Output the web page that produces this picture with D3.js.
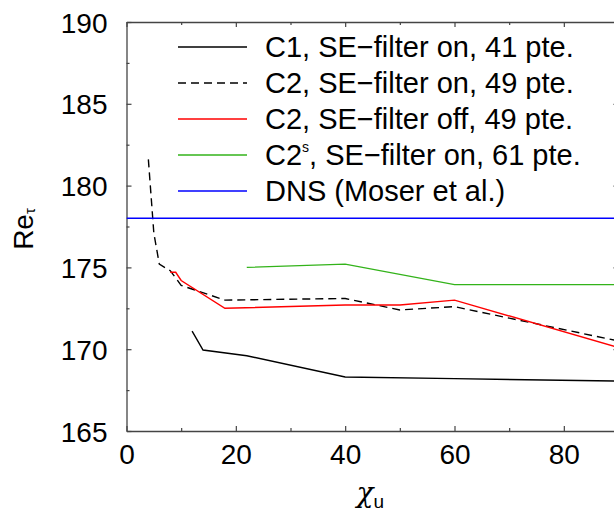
<!DOCTYPE html>
<html>
<head>
<meta charset="utf-8">
<script src="https://cdn.jsdelivr.net/npm/d3@7"></script>
<style>
  body { margin: 0; background: #fff; }
  svg text { font-family: "Liberation Sans", Arial, sans-serif; fill: #000; }
</style>
</head>
<body>
<div id="chart"></div>
<script>
// data
var c1x = [12, 14, 22, 40, 60, 90];
var c1y = [171.1, 169.95, 169.6, 168.3, 168.2, 168.05];
var c2onx = [4, 5, 6, 8, 10, 18, 40, 50, 60, 90];
var c2ony = [181.6, 177.1, 175.2, 174.8, 173.9, 173.0, 173.1, 172.4, 172.6, 170.5];
var c2offx = [8, 9, 10, 18, 40, 50, 60, 90];
var c2offy = [174.7, 174.7, 174.2, 172.5, 172.7, 172.7, 173.0, 170.1];
var c2sx = [22, 40, 60, 90];
var c2sy = [175.0, 175.2, 173.95, 173.95];
var dnsx = [0, 90];
var dnsy = [178, 178];
var xMajor = [0, 20, 40, 60, 80];
var xMinor = [10, 30, 50, 70];
var yMajor = [165, 170, 175, 180, 185, 190];
var yMinor = [167.5, 172.5, 177.5, 182.5, 187.5];

var width = 614, height = 516;
var margin = {top: 22, left: 126.5, bottom: 85, right: -4.5};

var svg = d3.select("#chart").append("svg")
  .attr("width", width)
  .attr("height", height);

var x = d3.scaleLinear().domain([0, 90]).range([margin.left, width - margin.right]);
var y = d3.scaleLinear().domain([165, 190]).range([height - margin.bottom, margin.top]);

svg.append("clipPath").attr("id", "plotclip")
  .append("rect")
  .attr("x", x(0)).attr("y", y(190))
  .attr("width", x(90) - x(0)).attr("height", y(165) - y(190));

// axes, ticks inward on all sides
function styleAxis(g) {
  g.select(".domain").attr("stroke", "#444").attr("stroke-width", 1.3);
  g.selectAll(".tick line").attr("stroke", "#444").attr("stroke-width", 1.2);
  g.selectAll(".tick text").style("font-size", "28px");
}
svg.append("g")
  .attr("transform", "translate(0," + y(165) + ")")
  .call(d3.axisBottom(x).tickValues(xMajor).tickSizeInner(-5).tickSizeOuter(0))
  .call(styleAxis)
  .call(function(g) { g.selectAll(".tick text").attr("y", 33).attr("dy", 0); });
svg.append("g")
  .attr("transform", "translate(0," + y(165) + ")")
  .call(d3.axisBottom(x).tickValues(xMinor).tickSizeInner(-3).tickSizeOuter(0).tickFormat(""))
  .call(styleAxis)
  .call(function(g) { g.select(".domain").remove(); });
svg.append("g")
  .attr("transform", "translate(0," + y(190) + ")")
  .call(d3.axisTop(x).tickValues(xMajor).tickSizeInner(-5).tickSizeOuter(0).tickFormat(""))
  .call(styleAxis);
svg.append("g")
  .attr("transform", "translate(0," + y(190) + ")")
  .call(d3.axisTop(x).tickValues(xMinor).tickSizeInner(-3).tickSizeOuter(0).tickFormat(""))
  .call(styleAxis)
  .call(function(g) { g.select(".domain").remove(); });

svg.append("g")
  .attr("transform", "translate(" + x(0) + ",0)")
  .call(d3.axisLeft(y).tickValues(yMajor).tickSizeInner(-5).tickSizeOuter(0).tickFormat(d3.format("d")))
  .call(styleAxis)
  .call(function(g) { g.selectAll(".tick text").attr("x", -19).attr("dy", "0.36em"); });
svg.append("g")
  .attr("transform", "translate(" + x(0) + ",0)")
  .call(d3.axisLeft(y).tickValues(yMinor).tickSizeInner(-3).tickSizeOuter(0).tickFormat(""))
  .call(styleAxis)
  .call(function(g) { g.select(".domain").remove(); });
svg.append("g")
  .attr("transform", "translate(" + x(90) + ",0)")
  .call(d3.axisRight(y).tickValues(yMajor).tickSizeInner(-5).tickSizeOuter(0).tickFormat(""))
  .call(styleAxis);
svg.append("g")
  .attr("transform", "translate(" + x(90) + ",0)")
  .call(d3.axisRight(y).tickValues(yMinor).tickSizeInner(-3).tickSizeOuter(0).tickFormat(""))
  .call(styleAxis)
  .call(function(g) { g.select(".domain").remove(); });

// axis titles
var xt = svg.append("text")
  .attr("x", x(44.6)).attr("y", 502)
  .attr("text-anchor", "middle")
  .style("font-size", "28px");
xt.append("tspan").style("font-family", "'DejaVu Serif', serif").style("font-style", "italic").text("χ");
xt.append("tspan").attr("dy", 6).style("font-size", "19px").text("u");

var yt = svg.append("text")
  .attr("transform", "translate(33,229) rotate(-90)")
  .attr("text-anchor", "middle")
  .style("font-size", "28px");
yt.append("tspan").text("Re");
yt.append("tspan").attr("dy", 2).style("font-size", "15px").text("τ");

// series
var series = [
  {name: "C1", xs: c1x, ys: c1y, color: "#000", dash: null},
  {name: "C2on", xs: c2onx, ys: c2ony, color: "#000", dash: "8,5"},
  {name: "C2off", xs: c2offx, ys: c2offy, color: "#ff0000", dash: null},
  {name: "C2s", xs: c2sx, ys: c2sy, color: "#33b31a", dash: null},
  {name: "DNS", xs: dnsx, ys: dnsy, color: "#0000ff", dash: null}
];

var line = d3.line()
  .x(function(d) { return x(d[0]); })
  .y(function(d) { return y(d[1]); });

var plot = svg.append("g").attr("clip-path", "url(#plotclip)");
series.forEach(function(s) {
  var pts = s.xs.map(function(v, i) { return [v, s.ys[i]]; });
  plot.append("path")
    .datum(pts)
    .attr("fill", "none")
    .attr("stroke", s.color)
    .attr("stroke-width", 1.4)
    .attr("stroke-dasharray", s.dash)
    .attr("d", line);
});

// legend
var legendRows = [0, 1, 2, 3, 4];
var lg = svg.append("g");
legendRows.forEach(function(i) {
  var s = series[i];
  var ly = 47 + i * 36;
  lg.append("line")
    .attr("x1", 178).attr("x2", 247)
    .attr("y1", ly).attr("y2", ly)
    .attr("stroke", s.color)
    .attr("stroke-width", 1.4)
    .attr("stroke-dasharray", s.dash);
  var t = lg.append("text")
    .attr("x", 265).attr("y", ly).attr("dy", "0.36em")
    .style("font-size", "29px");
  if (i == 0) t.text("C1, SE\u2212filter on, 41 pte.");
  if (i == 1) t.text("C2, SE\u2212filter on, 49 pte.");
  if (i == 2) t.text("C2, SE\u2212filter off, 49 pte.");
  if (i == 3) {
    t.append("tspan").text("C2");
    t.append("tspan").attr("dy", -13).style("font-size", "14px").text("s");
    t.append("tspan").attr("dy", 13).text(", SE\u2212filter on, 61 pte.");
  }
  if (i == 4) t.text("DNS (Moser et al.)");
});
</script>
</body>
</html>
